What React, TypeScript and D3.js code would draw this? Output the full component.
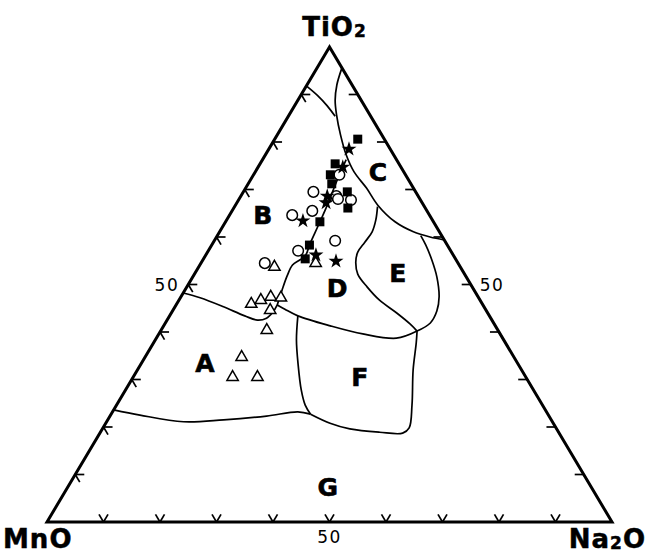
import React, { useRef, useEffect } from "react";
import * as d3 from "d3";

const W = 649;
const H = 555;

// sample points, [TiO2, MnO, Na2O] in %
const squares = [
  [80.6, 4.7, 14.7],
  [75.4, 11.3, 13.3],
  [73.1, 13.3, 13.6],
  [71.2, 14.0, 14.8],
  [69.5, 12.1, 18.4],
  [66.1, 13.7, 20.2],
  [63.2, 20.1, 16.7],
  [58.3, 24.4, 17.3],
  [55.4, 26.6, 18.0],
];

const stars = [
  [78.5, 7.3, 14.2],
  [74.7, 10.3, 15.0],
  [68.6, 16.1, 15.3],
  [67.2, 17.0, 15.8],
  [63.4, 23.0, 13.6],
  [56.2, 24.3, 19.5],
  [54.9, 21.4, 23.7],
];

const circles = [
  [73.1, 11.7, 15.2],
  [69.5, 18.1, 12.4],
  [68.6, 14.5, 16.9],
  [68.0, 14.5, 17.5],
  [67.8, 12.3, 19.9],
  [65.5, 20.3, 14.2],
  [64.6, 24.3, 11.1],
  [59.2, 19.4, 21.4],
  [57.1, 27.0, 15.9],
  [54.5, 34.2, 11.3],
];

const triangles = [
  [54.5, 25.2, 20.3],
  [53.7, 32.9, 13.4],
  [45.9, 40.9, 13.2],
  [46.7, 38.8, 14.5],
  [47.4, 36.7, 15.9],
  [47.2, 35.0, 17.8],
  [44.6, 38.2, 17.2],
  [40.4, 40.9, 18.7],
  [34.7, 48.2, 17.1],
  [30.5, 51.9, 17.6],
  [30.5, 47.5, 22.0],
];

// field boundaries, [TiO2, Na2O] (MnO = rest)
const cBoundary = [
  [95.6, 4.4], [92.0, 5.3], [88.8, 6.6], [85.7, 8.4], [81.5, 11.2], [77.3, 14.3],
  [73.7, 17.5], [70.3, 21.4], [66.7, 25.2], [63.2, 30.0], [61.1, 34.3], [60.0, 37.8], [59.4, 40.6],
];
const bTop = [[91.8, 0], [89.7, 3.1], [87.6, 5.8], [85.4, 8.3]];
const bdBoundary = [
  [45.7, 17.9], [48.8, 17.2], [51.8, 16.6], [54.1, 16.4], [55.2, 17.2], [56.2, 17.7], [58.3, 17.3],
  [60.8, 17.0], [63.2, 16.7], [65.7, 16.4], [68.8, 15.9], [72.4, 15.3], [76.3, 14.8],
];
const adBoundary = [
  [48.2, 0], [47.2, 3.5], [45.3, 8.6], [43.4, 13.3], [42.5, 16.0], [42.9, 17.4], [44.2, 17.9], [45.7, 17.9],
];
const dfBoundary = [[45.7, 17.9], [44.8, 19.7], [43.4, 22.7], [41.3, 29.5], [39.6, 36.1], [38.7, 42.5], [40.2, 45.4]];
const fLeft = [[43.4, 22.7], [38.3, 25.0], [33.1, 27.9], [27.8, 31.1], [24.6, 33.4], [22.7, 35.3]];
const agBoundary = [[23.6, 0], [22.5, 5.2], [21.1, 13.6], [21.5, 20.5], [22.3, 27.7], [23.2, 32.8], [22.7, 35.3]];
const fOuter = [
  [22.7, 35.3], [20.8, 39.7], [19.6, 43.8], [18.9, 49.4], [18.7, 53.6], [19.8, 54.2],
  [24.6, 52.3], [32.0, 48.8], [37.7, 46.5], [40.2, 45.4],
];
const eLeft = [
  [66.4, 25.3], [63.6, 26.4], [61.1, 27.0], [58.9, 26.8], [56.8, 26.6], [54.7, 27.3], [52.2, 28.9],
  [49.5, 31.9], [46.7, 35.5], [44.0, 39.9], [41.7, 43.4], [40.2, 45.4],
];
const eRight = [
  [60.3, 36.0], [58.3, 37.9], [55.2, 40.5], [51.6, 43.2], [47.4, 45.7], [44.4, 46.8], [41.9, 46.9], [40.2, 45.4],
];

const fieldLines = [cBoundary, bTop, bdBoundary, adBoundary, dfBoundary, fLeft, agBoundary, fOuter, eLeft, eRight];

const fieldNames = ["A", "B", "C", "D", "E", "F", "G"];
// label spots, [TiO2, Na2O]
const fieldSpots = [[33.5, 11.2], [64.6, 5.9], [73.7, 21.7], [49.3, 26.7], [52.4, 35.9], [30.5, 40.1], [7.4, 46.0]];

const tickValues = [10, 20, 30, 40, 50, 60, 70, 80, 90];

const App = () => {
  const svgRef = useRef(null);

  useEffect(() => {
    const svg = d3.select(svgRef.current);
    svg.selectAll("*").remove();

    const x = d3.scaleLinear().domain([0, 100]).range([47, 612]);
    const y = d3.scaleLinear().domain([0, 100]).range([522, 47]);
    // ternary (TiO2, Na2O) -> pixel
    const px = (ti, na) => [x(na + ti / 2), y(ti)];

    const bold = "'DejaVu Sans', Arial, sans-serif";

    // frame
    svg
      .append("path")
      .attr("d", d3.line()([px(100, 0), px(0, 0), px(0, 100)]) + "Z")
      .attr("fill", "none")
      .attr("stroke", "#000")
      .attr("stroke-width", 3)
      .attr("stroke-linejoin", "miter");

    // ticks: short stubs along the two grid directions
    const d = 1.6;
    const ticks = [];
    tickValues.forEach((v) => {
      ticks.push([px(v, 0), px(v, d)], [px(v, 0), px(v - d, d)]);
      ticks.push([px(v, 100 - v), px(v, 100 - v - d)], [px(v, 100 - v), px(v - d, 100 - v + d)]);
      ticks.push([px(0, v), px(d, v)], [px(0, v), px(d, v - d)]);
    });
    svg
      .append("g")
      .selectAll("path")
      .data(ticks)
      .join("path")
      .attr("d", (t) => d3.line()(t))
      .attr("stroke", "#000")
      .attr("stroke-width", 1.7);

    // field boundaries
    const curve = d3
      .line()
      .x((p) => px(p[0], p[1])[0])
      .y((p) => px(p[0], p[1])[1])
      .curve(d3.curveCatmullRom.alpha(0.5));
    svg
      .append("g")
      .selectAll("path")
      .data(fieldLines)
      .join("path")
      .attr("d", curve)
      .attr("fill", "none")
      .attr("stroke", "#000")
      .attr("stroke-width", 1.7);

    // field letters
    svg
      .append("g")
      .selectAll("text")
      .data(fieldNames)
      .join("text")
      .attr("x", (n, i) => px(fieldSpots[i][0], fieldSpots[i][1])[0])
      .attr("y", (n, i) => px(fieldSpots[i][0], fieldSpots[i][1])[1] + 9)
      .attr("text-anchor", "middle")
      .attr("font-family", bold)
      .attr("font-weight", "bold")
      .attr("font-size", 25)
      .attr("stroke", "#000")
      .attr("stroke-width", 0.6)
      .text((n) => n);

    // samples
    const at = (p) => `translate(${px(p[0], p[2])[0]},${px(p[0], p[2])[1]})`;
    const marks = svg.append("g");
    marks
      .selectAll(".tri")
      .data(triangles)
      .join("path")
      .attr("class", "tri")
      .attr("transform", at)
      .attr("d", d3.symbol(d3.symbolTriangle, 56))
      .attr("fill", "#fff")
      .attr("stroke", "#000")
      .attr("stroke-width", 1.5);
    marks
      .selectAll(".circ")
      .data(circles)
      .join("circle")
      .attr("class", "circ")
      .attr("transform", at)
      .attr("r", 5.3)
      .attr("fill", "#fff")
      .attr("stroke", "#000")
      .attr("stroke-width", 1.5);
    marks
      .selectAll(".sq")
      .data(squares)
      .join("path")
      .attr("class", "sq")
      .attr("transform", at)
      .attr("d", d3.symbol(d3.symbolSquare, 81))
      .attr("fill", "#000");
    marks
      .selectAll(".star")
      .data(stars)
      .join("path")
      .attr("class", "star")
      .attr("transform", at)
      .attr("d", d3.symbol(d3.symbolStar, 70))
      .attr("fill", "#000");

    // corner labels
    const corner = (tx, ty, anchor, main, sub, tail) => {
      const t = svg
        .append("text")
        .attr("x", tx)
        .attr("y", ty)
        .attr("text-anchor", anchor)
        .attr("font-family", bold)
        .attr("font-weight", "bold")
        .attr("font-size", 26)
        .attr("stroke", "#000")
        .attr("stroke-width", 0.5)
        .attr("letter-spacing", 1);
      t.append("tspan").text(main);
      if (sub) {
        t.append("tspan").attr("font-size", 17).attr("dy", 1).text(sub);
        t.append("tspan").attr("dy", -1).text(tail);
      }
    };
    corner(px(100, 0)[0] + 5, 36, "middle", "TiO", "2", "");
    corner(3, 548, "start", "MnO", null, null);
    corner(646, 548, "end", "Na", "2", "O");

    // 50 labels
    const num = { "font-family": "'DejaVu Sans', Arial, sans-serif", "font-size": 17, "letter-spacing": 1.5 };
    const l50 = px(50, 0);
    const r50 = px(50, 50);
    const b50 = px(0, 50);
    [
      [l50[0] - 9, l50[1] + 6, "end"],
      [r50[0] + 9, r50[1] + 6, "start"],
      [b50[0], b50[1] + 21, "middle"],
    ].forEach(([tx, ty, anchor]) => {
      const t = svg.append("text").attr("x", tx).attr("y", ty).attr("text-anchor", anchor).text("50");
      Object.entries(num).forEach(([k, v]) => t.attr(k, v));
    });
  }, []);

  return (
    <svg
      ref={svgRef}
      width={W}
      height={H}
      style={{ position: "absolute", left: 0, top: 0, background: "#fff" }}
    ></svg>
  );
};

export default App;
